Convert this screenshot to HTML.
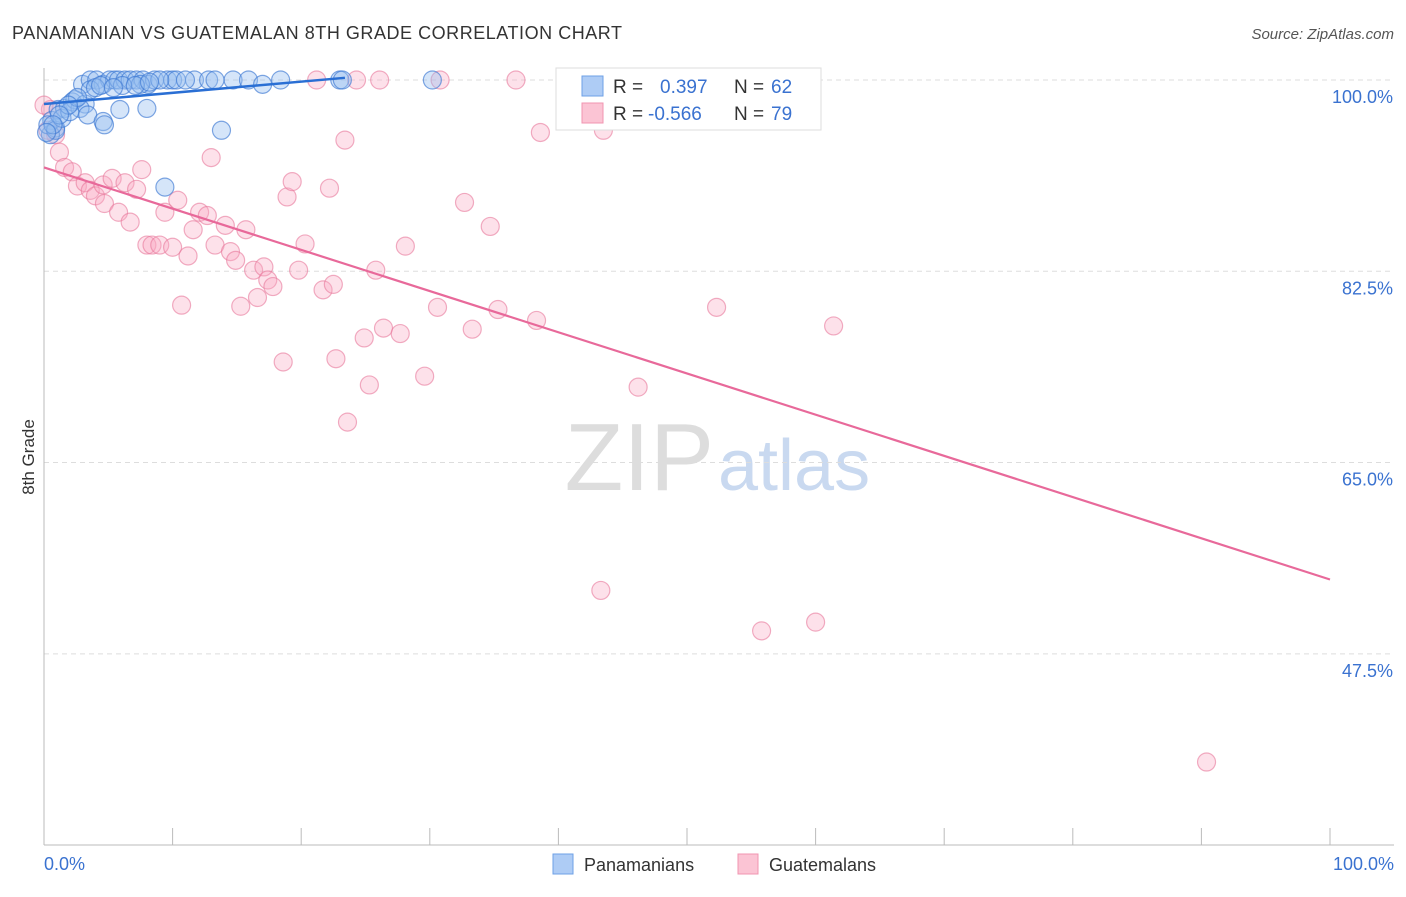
<!DOCTYPE html>
<html><head><meta charset="utf-8"><style>
body{margin:0;background:#fff;font-family:"Liberation Sans",sans-serif;}
svg text{font-family:"Liberation Sans",sans-serif;}
</style></head><body>
<svg id="chart" width="1406" height="892">
<text x="12" y="39" font-size="18" fill="#333" textLength="610">PANAMANIAN VS GUATEMALAN 8TH GRADE CORRELATION CHART</text>
<text x="1394" y="39" font-size="15" fill="#555" text-anchor="end" font-style="italic">Source: ZipAtlas.com</text>
<text x="34" y="457" font-size="17" fill="#333" transform="rotate(-90 34 457)" text-anchor="middle">8th Grade</text>
<text x="714" y="490" font-size="96" fill="#ddd" text-anchor="end" font-family="Liberation Serif">ZIP</text>
<text x="718" y="490" font-size="72" fill="#c9d9f0">atlas</text>
<g id="grid"></g><g id="axes"></g><g id="pts"></g><g id="lines"></g>
<g>
<rect x="556" y="68" width="265" height="62" fill="#fff" stroke="#ddd"/>
<rect x="582" y="76" width="21" height="20" fill="#aeccf5" stroke="#6ea0e6"/>
<rect x="582" y="103" width="21" height="20" fill="#fbc4d4" stroke="#f095b0"/>
<text x="613" y="93" font-size="19" fill="#333">R =</text>
<text x="660" y="93" font-size="19" fill="#3a72d0">0.397</text>
<text x="734" y="93" font-size="19" fill="#333">N =</text>
<text x="771" y="93" font-size="19" fill="#3a72d0">62</text>
<text x="613" y="120" font-size="19" fill="#333">R =</text>
<text x="648" y="120" font-size="19" fill="#3a72d0">-0.566</text>
<text x="734" y="120" font-size="19" fill="#333">N =</text>
<text x="771" y="120" font-size="19" fill="#3a72d0">79</text>
</g>
<g><rect x="553" y="854" width="20" height="20" fill="#aeccf5" stroke="#6ea0e6"/><text x="584" y="871" font-size="18" fill="#333">Panamanians</text></g>
<g><rect x="738" y="854" width="20" height="20" fill="#fbc4d4" stroke="#f095b0"/><text x="769" y="871" font-size="18" fill="#333">Guatemalans</text></g>
</svg>
<script>
const blueX=[3.0,3.6,4.1,4.6,5.1,5.5,5.8,6.3,6.7,7.2,7.7,8.1,8.6,9.6,10.0,10.3,11.7,12.8,14.7,15.9,17.0,18.4,23.0,23.2,30.2,41.8,0.9,0.6,1.1,1.6,2.2,2.4,3.2,2.8,3.4,4.6,4.7,5.9,8.0,13.8,9.4,0.5,0.3,0.9,1.4,2.0,3.6,4.0,4.4,6.1,7.5,9.0,11.0,13.3,2.6,1.9,1.2,0.7,0.2,5.4,7.1,8.2];
const blueY=[99.6,100,100,99.6,100,100,100,100,100,100,100,99.6,100,100,100,100,100,100,100,100,99.6,100,100,100,100,100,95.6,96.3,97.3,97.4,98.0,98.2,97.8,97.4,96.8,96.2,95.9,97.3,97.4,95.4,90.2,95.0,95.9,95.4,96.5,97.1,99.1,99.3,99.5,99.5,99.6,100,100,100,98.4,97.7,96.8,95.9,95.2,99.3,99.5,99.8];
const pinkX=[0.5,0.9,1.2,1.6,2.2,2.6,3.2,3.6,4.0,4.6,4.7,5.3,5.8,6.3,6.7,7.2,7.6,8.0,8.4,9.0,9.4,10.0,10.4,10.7,11.2,11.6,12.1,12.7,13.0,13.3,14.1,14.5,14.9,15.3,15.7,16.3,16.6,17.1,17.4,17.8,18.6,18.9,19.3,19.8,20.3,21.7,22.2,22.5,22.7,23.4,23.6,24.9,25.3,25.8,26.4,27.7,28.1,29.6,30.6,30.8,32.7,33.3,34.7,35.3,36.7,38.3,38.6,43.3,43.5,46.2,52.3,55.8,58.8,60.0,61.4,90.4,21.2,24.3,26.1,0,0.3];
const pinkY=[97.3,95.0,93.4,92.0,91.6,90.3,90.6,89.9,89.4,90.4,88.7,91.0,87.9,90.6,87.0,90.0,91.8,84.9,84.9,84.9,87.9,84.7,89.0,79.4,83.9,86.3,87.9,87.6,92.9,84.9,86.7,84.3,83.5,79.3,86.3,82.6,80.1,82.9,81.7,81.1,74.2,89.3,90.7,82.6,85.0,80.8,90.1,81.3,74.5,94.5,68.7,76.4,72.1,82.6,77.3,76.8,84.8,72.9,79.2,100,88.8,77.2,86.6,79.0,100,78.0,95.2,53.3,95.4,71.9,79.2,49.6,100,50.4,77.5,37.6,100,100,100,97.7,95.4];
const blueLine=[0,97.8,23.4,100.2];
const pinkLine=[0,92.0,100,54.3];
const yTicks=[100,82.5,65,47.5];
const yTickLabels=["100.0%","82.5%","65.0%","47.5%"];
const xTicks=[0,10,20,30,40,50,60,70,80,90,100];
const NS="http://www.w3.org/2000/svg";
const sx=v=>44+v*12.86, sy=v=>80+(100-v)*10.93;
function mk(p,t,a){const e=document.createElementNS(NS,t);for(const k in a)e.setAttribute(k,a[k]);document.getElementById(p).appendChild(e);return e;}
yTicks.forEach((t,i)=>{
 const g=mk('grid','line',{x1:44,x2:1394,y1:sy(t),y2:sy(t),stroke:'#ddd','stroke-dasharray':'5,4'});
 
 
 const l=mk('grid','text',{x:1393,y:sy(t)+23,'font-size':18,fill:'#3a72d0','text-anchor':'end'});l.textContent=yTickLabels[i];
 
 
});
mk('axes','line',{x1:44,x2:44,y1:68,y2:845,stroke:'#bbb'});
mk('axes','line',{x1:44,x2:1394,y1:845,y2:845,stroke:'#bbb'});
xTicks.forEach(t=>{const e=mk('axes','line',{x1:sx(t),x2:sx(t),y1:828,y2:845,stroke:'#bbb'});
 
 });
let a=mk('axes','text',{x:44,y:870,'font-size':18,fill:'#3a72d0'});a.textContent='0.0%';


a=mk('axes','text',{x:1394,y:870,'font-size':18,fill:'#3a72d0','text-anchor':'end'});a.textContent='100.0%';


pinkX.forEach((x,i)=>{const c=mk('pts','circle',{cx:sx(x),cy:sy(pinkY[i]),r:9,fill:'rgba(248,170,195,0.35)',stroke:'rgba(232,120,155,0.6)','stroke-width':1.2});
 
 });
blueX.forEach((x,i)=>{const c=mk('pts','circle',{cx:sx(x),cy:sy(blueY[i]),r:9,fill:'rgba(150,190,240,0.4)',stroke:'rgba(60,120,210,0.65)','stroke-width':1.2});
 
 });
let ln=mk('lines','line',{x1:sx(blueLine[0]),y1:sy(blueLine[1]),x2:sx(blueLine[2]),y2:sy(blueLine[3]),stroke:'#2a6fd4','stroke-width':2.5});


ln=mk('lines','line',{x1:sx(pinkLine[0]),y1:sy(pinkLine[1]),x2:sx(pinkLine[2]),y2:sy(pinkLine[3]),stroke:'#e8699a','stroke-width':2.2});


</script>
</body></html>
